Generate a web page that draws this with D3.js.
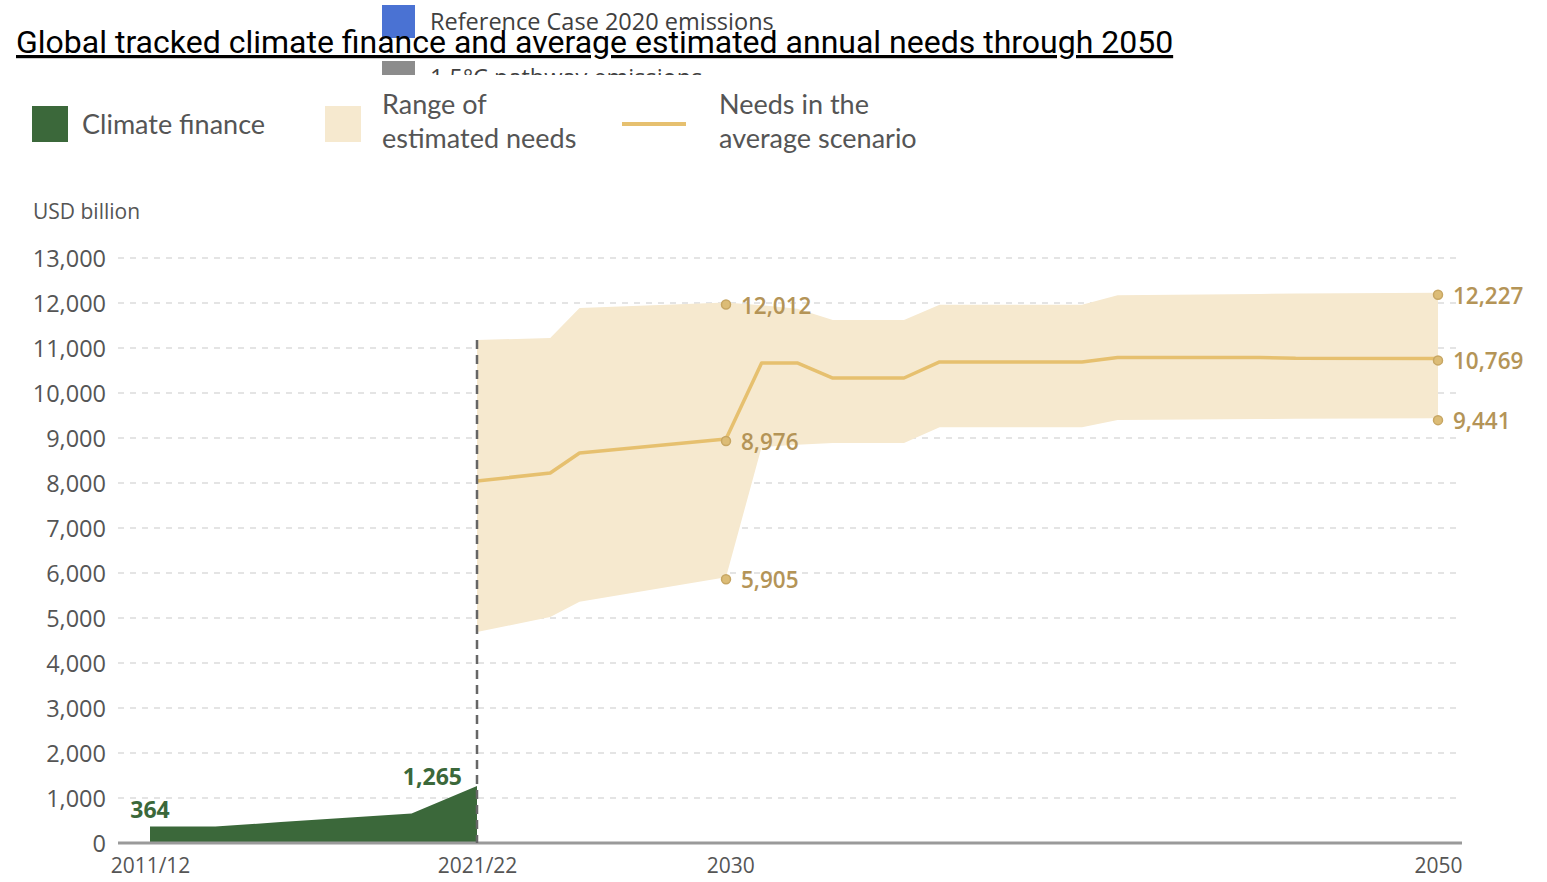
<!DOCTYPE html>
<html>
<head>
<meta charset="utf-8">
<script src="https://cdn.jsdelivr.net/npm/d3@7"></script>
<style>
  html, body { margin: 0; padding: 0; background: #fff; }
  svg { display: block; }
</style>
</head>
<body>
<svg id="chart" width="1547" height="882"></svg>
<script>
// ---------------- DATA ----------------
const titleText = "Global tracked climate finance and average estimated annual needs through 2050";
const topLegendLabels = ["Reference Case 2020 emissions", "1.5°C pathway emissions"];
const legendLabels = ["Climate finance", ["Range of", "estimated needs"], ["Needs in the", "average scenario"]];
const yAxisTitle = "USD billion";
const yTicks = [0, 1000, 2000, 3000, 4000, 5000, 6000, 7000, 8000, 9000, 10000, 11000, 12000, 13000];
const xTickYears = [2011.5, 2021.5, 2030, 2050];
const xTickLabels = ["2011/12", "2021/22", "2030", "2050"];

const financeYears = [2011.5, 2013.5, 2015.5, 2017.5, 2019.5, 2021.5];
const financeValues = [364, 365, 464, 561, 653, 1265];

const needsYears = [2021.5, 2024, 2025, 2030, 2031, 2032, 2033, 2035, 2036, 2040, 2041, 2045, 2046, 2050];
const needsAvg  = [8044, 8222, 8667, 8976, 10667, 10667, 10333, 10333, 10690, 10690, 10790, 10790, 10770, 10769];
const needsHigh = [11180, 11220, 11890, 12012, 11950, 11870, 11620, 11620, 11960, 11960, 12170, 12200, 12210, 12227];
const needsLow  = [4690, 5020, 5360, 5905, 8800, 8850, 8890, 8890, 9240, 9240, 9400, 9420, 9430, 9441];

const labelledYears = [2030, 2050];
const financeLabelIdx = [0, 5];

// ---------------- STYLE ----------------
const C = {
  green: "#3b683a",
  band: "#f6e9cf",
  line: "#e6c06f",
  dot: "#dcbc76",
  dotStroke: "#c7a663",
  dotText: "#b49457",
  text: "#555555",
  grid: "#dcdcdc",
  axis: "#9a9a9a",
  divider: "#666666"
};

const svg = d3.select("#chart");

// piecewise x scale (reference axis is not uniform in time)
const x = d3.scaleLinear().domain(xTickYears).range([150, 477, 726, 1438]);
const y = d3.scaleLinear().domain([0, 13000]).range([843, 258]);
const plotLeft = 118, plotRight = 1462;

// ---------------- TOP (clipped) LEGEND ----------------
svg.append("clipPath").attr("id", "topclip")
  .append("rect").attr("x", 0).attr("y", 0).attr("width", 900).attr("height", 75);
const topLeg = svg.append("g").attr("clip-path", "url(#topclip)");
const topColors = ["#4a72d3", "#8c8c8c"];
topLegendLabels.forEach((t, i) => {
  topLeg.append("rect").attr("x", 382).attr("y", 5 + i * 56).attr("width", 33).attr("height", 33).attr("fill", topColors[i]);
  topLeg.append("text").attr("x", 430).attr("y", 30 + i * 56)
    .attr("font-family", "'Open Sans', sans-serif").attr("font-size", 23.5).attr("fill", "#404040")
    .text(t);
});

// ---------------- TITLE ----------------
svg.append("text").attr("x", 16).attr("y", 53)
  .attr("font-family", "Roboto, sans-serif").attr("font-size", 32).attr("fill", "#000")
  .style("text-decoration", "underline")
  .text(titleText);

// ---------------- LEGEND ----------------
const legFont = "Lato, 'Source Sans Pro', sans-serif";
const legSize = 27;
const lg = svg.append("g");
lg.append("rect").attr("x", 32).attr("y", 106).attr("width", 36).attr("height", 36).attr("fill", C.green);
lg.append("text").attr("x", 82).attr("y", 134).attr("font-family", legFont).attr("font-size", legSize).attr("fill", C.text).text(legendLabels[0]);
lg.append("rect").attr("x", 325).attr("y", 106).attr("width", 36).attr("height", 36).attr("fill", C.band);
legendLabels[1].forEach((t, i) => lg.append("text").attr("x", 382).attr("y", 114 + i * 34).attr("font-family", legFont).attr("font-size", legSize).attr("fill", C.text).text(t));
lg.append("line").attr("x1", 622).attr("x2", 686).attr("y1", 124).attr("y2", 124).attr("stroke", C.line).attr("stroke-width", 4);
legendLabels[2].forEach((t, i) => lg.append("text").attr("x", 719).attr("y", 114 + i * 34).attr("font-family", legFont).attr("font-size", legSize).attr("fill", C.text).text(t));

// ---------------- AXIS TITLE ----------------
svg.append("text").attr("x", 33).attr("y", 219)
  .attr("font-family", "'Open Sans', sans-serif").attr("font-size", 21).attr("font-weight", 500).attr("fill", C.text)
  .text(yAxisTitle);

// ---------------- GRID + Y AXIS ----------------
const yAxis = d3.axisLeft(y).tickValues(yTicks).tickSize(0).tickPadding(0).tickFormat(d3.format(","));
const yg = svg.append("g").attr("transform", `translate(106,0)`).call(yAxis);
yg.select(".domain").remove();
yg.selectAll("text").attr("font-family", "'Open Sans', sans-serif").attr("font-size", 23.5).attr("fill", C.text).attr("dy", "0.35em");

const gridG = svg.append("g");
gridG.selectAll("line").data(yTicks.filter(d => d > 0)).join("line")
  .attr("x1", plotLeft).attr("x2", plotRight)
  .attr("y1", d => y(d)).attr("y2", d => y(d))
  .attr("stroke", C.grid).attr("stroke-width", 1.5).attr("stroke-dasharray", "6,6");

// ---------------- NEEDS BAND ----------------
const needs = needsYears.map((yr, i) => ({ yr, avg: needsAvg[i], hi: needsHigh[i], lo: needsLow[i] }));
svg.append("path").datum(needs)
  .attr("fill", C.band)
  .attr("d", d3.area().x(d => x(d.yr)).y0(d => y(d.lo)).y1(d => y(d.hi)));

svg.append("path").datum(needs)
  .attr("fill", "none").attr("stroke", C.line).attr("stroke-width", 3.5).attr("stroke-linejoin", "round")
  .attr("d", d3.line().x(d => x(d.yr)).y(d => y(d.avg)));

// ---------------- CLIMATE FINANCE AREA ----------------
const fin = financeYears.map((yr, i) => ({ yr, v: financeValues[i] }));
svg.append("path").datum(fin)
  .attr("fill", C.green)
  .attr("d", d3.area().x(d => x(d.yr)).y0(y(0)).y1(d => y(d.v)));

// ---------------- X AXIS ----------------
svg.append("line").attr("x1", plotLeft).attr("x2", plotRight).attr("y1", y(0)).attr("y2", y(0))
  .attr("stroke", C.axis).attr("stroke-width", 3);
const xAxis = d3.axisBottom(x).tickValues(xTickYears).tickSize(0).tickPadding(0)
  .tickFormat((d, i) => xTickLabels[i]);
const xg = svg.append("g").attr("transform", `translate(0,${y(0)})`).call(xAxis);
xg.select(".domain").remove();
xg.selectAll("text").attr("font-family", "'Open Sans', sans-serif").attr("font-size", 21).attr("fill", C.text).attr("dy", "1.45em");
xg.selectAll(".tick").filter(d => d === 2030).select("text").attr("dx", "0.2em");

// ---------------- DIVIDER ----------------
svg.append("line")
  .attr("x1", x(needsYears[0])).attr("x2", x(needsYears[0]))
  .attr("y1", y(needsHigh[0])).attr("y2", y(0))
  .attr("stroke", C.divider).attr("stroke-width", 2.5).attr("stroke-dasharray", "9,6");

// ---------------- DOTS + LABELS ----------------
const fmt = d3.format(",");
const dotData = [];
labelledYears.forEach(yr => {
  const d = needs.find(n => n.yr === yr);
  [d.hi, d.avg, d.lo].forEach(v => dotData.push({ yr, v }));
});
svg.append("g").selectAll("circle").data(dotData).join("circle")
  .attr("cx", d => x(d.yr)).attr("cy", d => y(d.v) + 2).attr("r", 4.5)
  .attr("fill", C.dot).attr("stroke", C.dotStroke).attr("stroke-width", 1.5);
svg.append("g").selectAll("text").data(dotData).join("text")
  .attr("x", d => x(d.yr) + 15).attr("y", d => y(d.v) + 3).attr("dy", "0.36em")
  .attr("font-family", "'Open Sans', sans-serif").attr("font-size", 22.5).attr("font-weight", 600)
  .attr("fill", C.dotText).text(d => fmt(d.v));

// finance labels
svg.append("g").selectAll("text").data(financeLabelIdx.map(i => fin[i])).join("text")
  .attr("x", (d, i) => i === 0 ? x(d.yr) : x(d.yr) - 15)
  .attr("y", (d, i) => i === 0 ? y(d.v) - 9 : y(d.v) - 1)
  .attr("text-anchor", (d, i) => i === 0 ? "middle" : "end")
  .attr("font-family", "'Open Sans', sans-serif").attr("font-size", 23).attr("font-weight", 700)
  .attr("fill", C.green).text(d => fmt(d.v));
</script>
</body>
</html>
